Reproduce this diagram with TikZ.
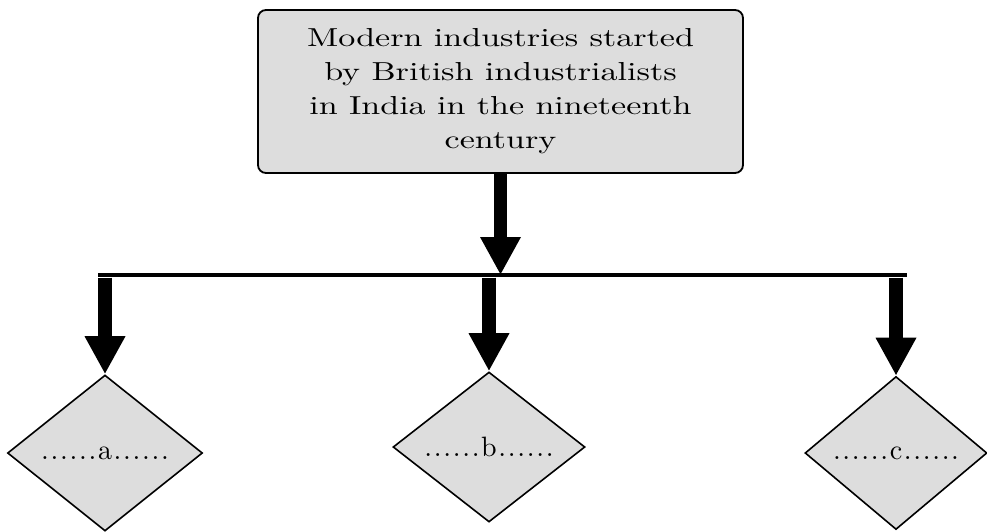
\documentclass[tikz,border=0pt]{standalone}
\usepackage{fontspec}
\usetikzlibrary{shapes.geometric,arrows.meta}
% wide serif for the heading, spaced serif for the blanks
\newfontfamily\wideserif{lmroman10-regular.otf}[FakeStretch=1.31]
\newfontfamily\dotserif{lmroman10-regular.otf}[LetterSpace=6]
\definecolor{boxgray}{RGB}{221,221,221}
\tikzset{
  headbox/.style={draw=black, line width=1.8pt, fill=boxgray, rounded corners=8pt,
    minimum width=485pt, minimum height=163pt, inner sep=0pt,
    align=center, font=\wideserif\fontsize{26}{34}\selectfont},
  choice/.style={diamond, draw=black, line width=1.6pt, fill=boxgray, inner sep=0pt,
    font=\dotserif\fontsize{28}{30}\selectfont},
  bus/.style={line width=4.5pt, line cap=butt},
  stem/.style={line width=14pt, -{Triangle[width=38pt,length=38pt]}}
}
\begin{document}
\begin{tikzpicture}[x=1pt,y=-1pt]
  \useasboundingbox (0,0) rectangle (987,531);

  % source box and the three blanks
  \node[headbox] (top) at (500.5,91.5)
    {Modern industries started\\by British industrialists\\in India in the nineteenth\\century};
  \node[choice, minimum width=195pt, minimum height=156pt] (a) at (105,453) {......a......};
  \node[choice, minimum width=192pt, minimum height=150pt] (b) at (489,447) {......b......};
  \node[choice, minimum width=182pt, minimum height=153pt] (c) at (896,453) {......c......};

  % distribution bar
  \coordinate (busL) at (98,275);
  \coordinate (busR) at (907,275);
  \draw[bus] (busL) -- (busR);

  % arrows
  \draw[stem, line width=13pt] (top.south) -- (top.south |- busR);
  \draw[stem] ([yshift=-2.5pt]busL -| a.north) -- (a.north);
  \draw[stem] ([yshift=-2.5pt]busL -| b.north) -- (b.north);
  \draw[stem] ([yshift=-2.5pt]busL -| c.north) -- (c.north);
\end{tikzpicture}
\end{document}
